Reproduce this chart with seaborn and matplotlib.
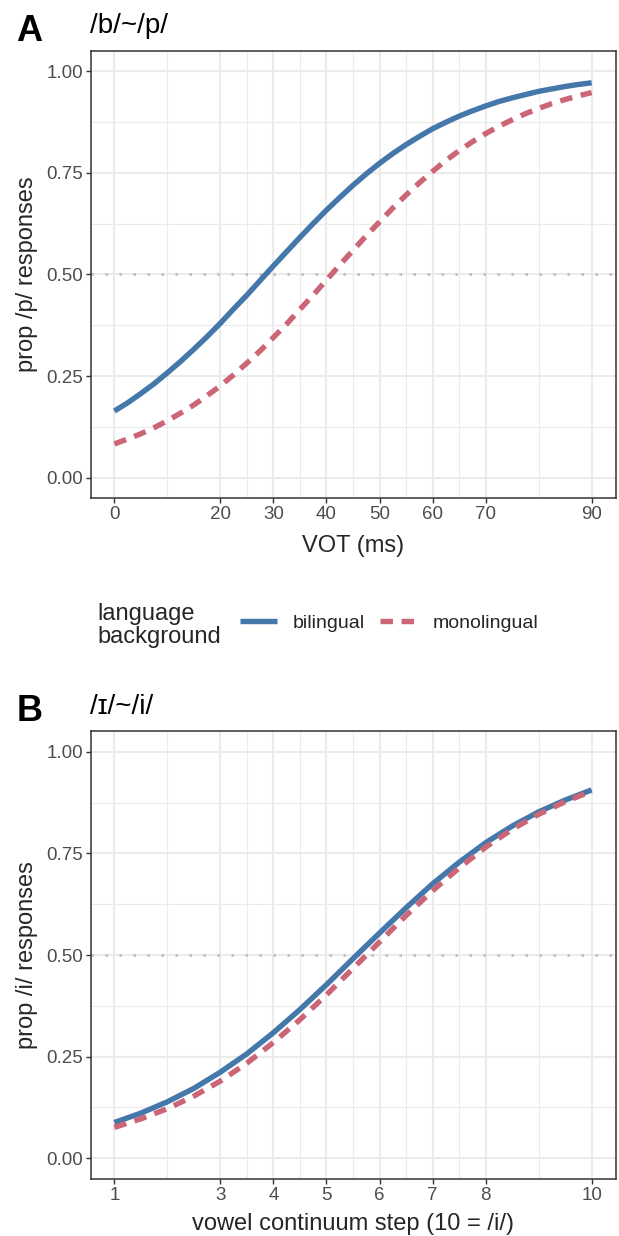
import numpy as np
import pandas as pd
import matplotlib
matplotlib.use("Agg")
import matplotlib.pyplot as plt
from matplotlib.lines import Line2D
from matplotlib.ticker import FixedLocator
import seaborn as sns

# ---------------- data ----------------
vot = [0, 2.5, 5, 7.5, 10, 12.5, 15, 17.5, 20, 22.5, 25, 27.5, 30, 32.5, 35, 37.5, 40,
       42.5, 45, 47.5, 50, 52.5, 55, 57.5, 60, 62.5, 65, 67.5, 70, 72.5, 75, 77.5, 80,
       82.5, 85, 87.5, 90]
vot_bilingual = [0.164, 0.184, 0.207, 0.231, 0.258, 0.286, 0.316, 0.347, 0.380, 0.415,
                 0.449, 0.485, 0.521, 0.556, 0.591, 0.625, 0.658, 0.689, 0.719, 0.747,
                 0.773, 0.797, 0.819, 0.839, 0.858, 0.874, 0.889, 0.902, 0.914, 0.925,
                 0.934, 0.942, 0.950, 0.956, 0.962, 0.967, 0.971]
vot_monolingual = [0.083, 0.095, 0.108, 0.123, 0.140, 0.159, 0.179, 0.202, 0.226, 0.253,
                   0.282, 0.312, 0.345, 0.378, 0.414, 0.449, 0.486, 0.523, 0.559, 0.595,
                   0.629, 0.663, 0.695, 0.725, 0.753, 0.780, 0.804, 0.826, 0.846, 0.864,
                   0.880, 0.895, 0.908, 0.920, 0.930, 0.939, 0.947]

step = [1, 1.5, 2, 2.5, 3, 3.5, 4, 4.5, 5, 5.5, 6, 6.5, 7, 7.5, 8, 8.5, 9, 9.5, 10]
step_bilingual = [0.088, 0.111, 0.139, 0.172, 0.212, 0.257, 0.309, 0.366, 0.427, 0.491,
                  0.554, 0.616, 0.675, 0.728, 0.776, 0.817, 0.852, 0.881, 0.906]
step_monolingual = [0.076, 0.097, 0.122, 0.153, 0.190, 0.234, 0.285, 0.341, 0.402, 0.467,
                    0.532, 0.597, 0.658, 0.714, 0.765, 0.809, 0.846, 0.877, 0.903]

groups = ["bilingual", "monolingual"]
vot_breaks = [0, 20, 30, 40, 50, 60, 70, 90]
vot_minor = [10, 25, 35, 45, 55, 65, 80]
step_breaks = [1, 3, 4, 5, 6, 7, 8, 10]
step_minor = [2, 3.5, 4.5, 5.5, 6.5, 7.5, 9]
y_breaks = [0.0, 0.25, 0.5, 0.75, 1.0]
y_labels = ["0.00", "0.25", "0.50", "0.75", "1.00"]
y_minor = [0.125, 0.375, 0.625, 0.875]

df_a = pd.DataFrame({
    "x": vot + vot,
    "y": vot_bilingual + vot_monolingual,
    "group": [groups[0]] * len(vot) + [groups[1]] * len(vot),
})
df_b = pd.DataFrame({
    "x": step + step,
    "y": step_bilingual + step_monolingual,
    "group": [groups[0]] * len(step) + [groups[1]] * len(step),
})

# ---------------- style ----------------
sns.set_theme(style="white")
plt.rcParams["font.family"] = ["Liberation Sans", "DejaVu Sans"]

palette = {"bilingual": "#4477AA", "monolingual": "#CC6677"}
DASH = (2.3, 1.6)
dashes = {"bilingual": "", "monolingual": DASH}
LW = 3.9
GRID = "#EBEBEB"
DARK = "#333333"

W, H = 619, 1236
fig = plt.figure(figsize=(W / 100, H / 100), dpi=100)


def px_axes(left, right, top, bottom):
    return fig.add_axes([left / W, 1 - bottom / H, (right - left) / W, (bottom - top) / H])


def style_axes(ax, xlim, xmajor, xminor):
    ax.set_xlim(*xlim)
    ax.set_ylim(-0.05, 1.05)
    ax.xaxis.set_major_locator(FixedLocator(xmajor))
    ax.xaxis.set_minor_locator(FixedLocator(xminor))
    ax.yaxis.set_major_locator(FixedLocator(y_breaks))
    ax.yaxis.set_minor_locator(FixedLocator(y_minor))
    ax.set_yticklabels(y_labels)
    ax.set_xticklabels([str(v) for v in xmajor])
    ax.grid(which="major", color=GRID, linewidth=1.5, zorder=0)
    ax.grid(which="minor", color=GRID, linewidth=0.8, zorder=0)
    ax.set_axisbelow(True)
    for s in ax.spines.values():
        s.set_color(DARK)
        s.set_linewidth(1.1)
        s.set_visible(True)
    ax.tick_params(which="major", length=3.5, width=1.0, color=DARK,
                   labelcolor="#4D4D4D", labelsize=13.5)
    ax.tick_params(axis="x", which="major", pad=2.5, bottom=True)
    ax.tick_params(axis="y", which="major", pad=2.0, left=True)
    ax.tick_params(which="minor", length=0)
    ax.set_xlabel("")
    ax.set_ylabel("")
    ax.axhline(0.5, color="#BBBBBB", linewidth=1.8, linestyle=(0, (1, 4.6)), zorder=1)


# Panel A
axA = px_axes(90.5, 615.5, 50.7, 498.0)
sns.lineplot(data=df_a, x="x", y="y", hue="group", style="group", palette=palette,
             dashes=dashes, linewidth=LW, ax=axA, legend=False, zorder=3)
style_axes(axA, (-4.5, 94.5), vot_breaks, vot_minor)
for ln in axA.get_lines():
    ln.set_dash_capstyle("butt")
    ln.set_solid_capstyle("butt")

# Panel B
axB = px_axes(90.5, 615.5, 731.4, 1178.6)
sns.lineplot(data=df_b, x="x", y="y", hue="group", style="group", palette=palette,
             dashes=dashes, linewidth=LW, ax=axB, legend=False, zorder=3)
style_axes(axB, (0.55, 10.45), step_breaks, step_minor)
for ln in axB.get_lines():
    ln.set_dash_capstyle("butt")
    ln.set_solid_capstyle("butt")

# Titles and panel letters
fig.text(90.5 / W, 1 - 33 / H, "/b/~/p/", fontsize=20, color="black", va="baseline", ha="left")
fig.text(16 / W, 1 - 40.7 / H, "A", fontsize=26, fontweight="bold", color="black",
         va="baseline", ha="left")
fig.text(90.5 / W, 1 - 713.7 / H, "/ɪ/~/i/", fontsize=20, color="black", va="baseline", ha="left")
fig.text(17 / W, 1 - 720.7 / H, "B", fontsize=26, fontweight="bold", color="black",
         va="baseline", ha="left")

# Axis titles
xc = (90.5 + 615.5) / 2 / W
fig.text(xc, 1 - 552 / H, "VOT (ms)", fontsize=17, ha="center", va="baseline")
fig.text(xc, 1 - 1230 / H, "vowel continuum step (10 = /i/)", fontsize=17, ha="center",
         va="baseline")
fig.text(27 / W, 1 - (50.7 + 498.0) / 2 / H, "prop /p/ responses", fontsize=17,
         rotation=90, ha="center", va="center")
fig.text(27 / W, 1 - (731.4 + 1178.6) / 2 / H, "prop /i/ responses", fontsize=17,
         rotation=90, ha="center", va="center")

# Legend
fig.text(97 / W, 1 - 625.5 / H, "language\nbackground", fontsize=17, ha="left", va="center",
         linespacing=1.1)
handles = [
    Line2D([], [], color=palette["bilingual"], linewidth=LW, solid_capstyle="butt"),
    Line2D([], [], color=palette["monolingual"], linewidth=LW, dashes=DASH,
           dash_capstyle="butt"),
]
fig.legend(handles, groups, loc="center left", bbox_to_anchor=(240 / W, 1 - 623 / H),
           ncol=2, frameon=False, fontsize=14, handlelength=1.9, handletextpad=0.8,
           columnspacing=0.8, borderaxespad=0, borderpad=0)

fig.savefig("out.png", dpi=100, facecolor="white")
